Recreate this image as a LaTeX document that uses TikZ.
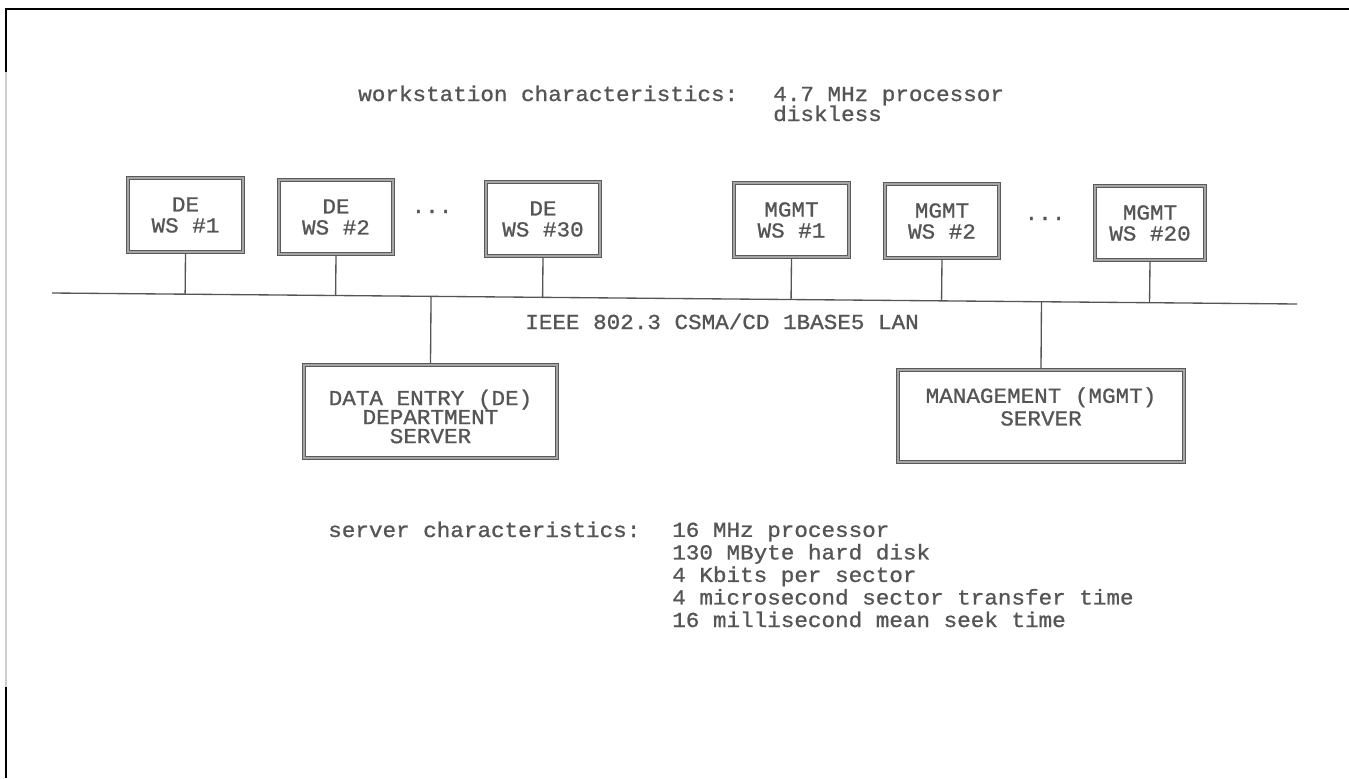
\documentclass[tikz,border=0pt]{standalone}
\usepackage{fontspec}
\setmonofont[FakeStretch=1.06,FakeBold=1]{Liberation Mono}
\usetikzlibrary{calc}
\definecolor{ink}{RGB}{85,85,85}
\definecolor{edge}{RGB}{90,90,90}
\definecolor{edgefill}{RGB}{165,165,165}
\definecolor{scanedge}{RGB}{205,205,205}
\begin{document}
\begin{tikzpicture}[x=0.75pt,y=-0.75pt,
  txt/.style={font=\fontsize{16}{16}\selectfont\ttfamily, text=ink, inner sep=0pt},
  boxline/.style={draw=edge, line width=0.8pt, double=edgefill, double distance=1.3pt, outer sep=1.45pt},
  wsbox/.style={txt, boxline, minimum width=86pt, minimum height=55pt,
    align=center, font=\fontsize{16}{15.75}\selectfont\ttfamily},
  srvbox/.style={boxline, inner sep=0pt},
  wire/.style={draw=ink, line width=1pt},
  frame/.style={draw=black, line width=1.5pt}]

\useasboundingbox (0,0) rectangle (1349,778);

% page frame
\draw[scanedge, line width=1pt] (6,72) -- (6,687);
\draw[frame] (6,778) -- (6,687);
\draw[frame] (6,72) -- (6,9.3) -- (1349,9.3);

% workstation characteristics (multi-line nodes sit on their last baseline)
\node[txt, anchor=base west] (wslbl) at (358,101) {workstation characteristics:};
\node[txt, anchor=base west, align=left, font=\fontsize{16}{15}\selectfont\ttfamily]
  (wsspec) at (773,121) {4.7 MHz processor\\diskless};

% data entry workstations
\node[wsbox] (de1)  at (185.5,215) {DE\\WS \#1};
\node[wsbox] (de2)  at (336,217)   {DE\\WS \#2};
\node[txt, anchor=base] (dedots) at (432,213) {...};
\node[wsbox] (de30) at (543,219)   {DE\\WS \#30};

% management workstations
\node[wsbox] (mg1)  at (791.5,220) {MGMT\\WS \#1};
\node[wsbox] (mg2)  at (942,221)   {MGMT\\WS \#2};
\node[txt, anchor=base] (mgdots) at (1045,220) {...};
\node[wsbox, minimum width=82.5pt] (mg20) at (1150,223) {MGMT\\WS \#20};

% LAN bus
\coordinate (busW) at (52,293);
\coordinate (busE) at (1297,304);
\draw[wire] (busW) -- (busE);
\foreach \n in {de1,de2,de30,mg1,mg2,mg20}
  \draw[wire] (\n.south) -- ($(busW)!(\n.south)!(busE)$);

\node[txt, anchor=base west] (lan) at (525,329) {IEEE 802.3 CSMA/CD 1BASE5 LAN};

% servers
\node[srvbox, minimum width=190pt, minimum height=70pt] (desrv) at (430.5,411.5) {};
\node[txt, align=center, font=\fontsize{16}{14.25}\selectfont\ttfamily]
  (desrvtxt) at ($(desrv.center)+(0,5)$) {DATA ENTRY (DE)\\DEPARTMENT\\SERVER};
\node[srvbox, minimum width=214.5pt, minimum height=69pt] (mgsrv) at (1041,416) {};
\node[txt, align=center, font=\fontsize{16}{17}\selectfont\ttfamily]
  (mgsrvtxt) at ($(mgsrv.center)+(0,-9.5)$) {MANAGEMENT (MGMT)\\SERVER};

\draw[wire] ($(busW)!(desrv.north)!(busE)$) -- (desrv.north);
\draw[wire] ($(busW)!(mgsrv.north)!(busE)$) -- (mgsrv.north);

% server characteristics
\node[txt, anchor=base west] (srvlbl) at (328,537) {server characteristics:};
\node[txt, anchor=base west, align=left, font=\fontsize{16}{16.9}\selectfont\ttfamily]
  (srvspec) at (672,627) {16 MHz processor\\130 MByte hard disk\\4 Kbits per sector\\4 microsecond sector transfer time\\16 millisecond mean seek time};
\end{tikzpicture}
\end{document}
